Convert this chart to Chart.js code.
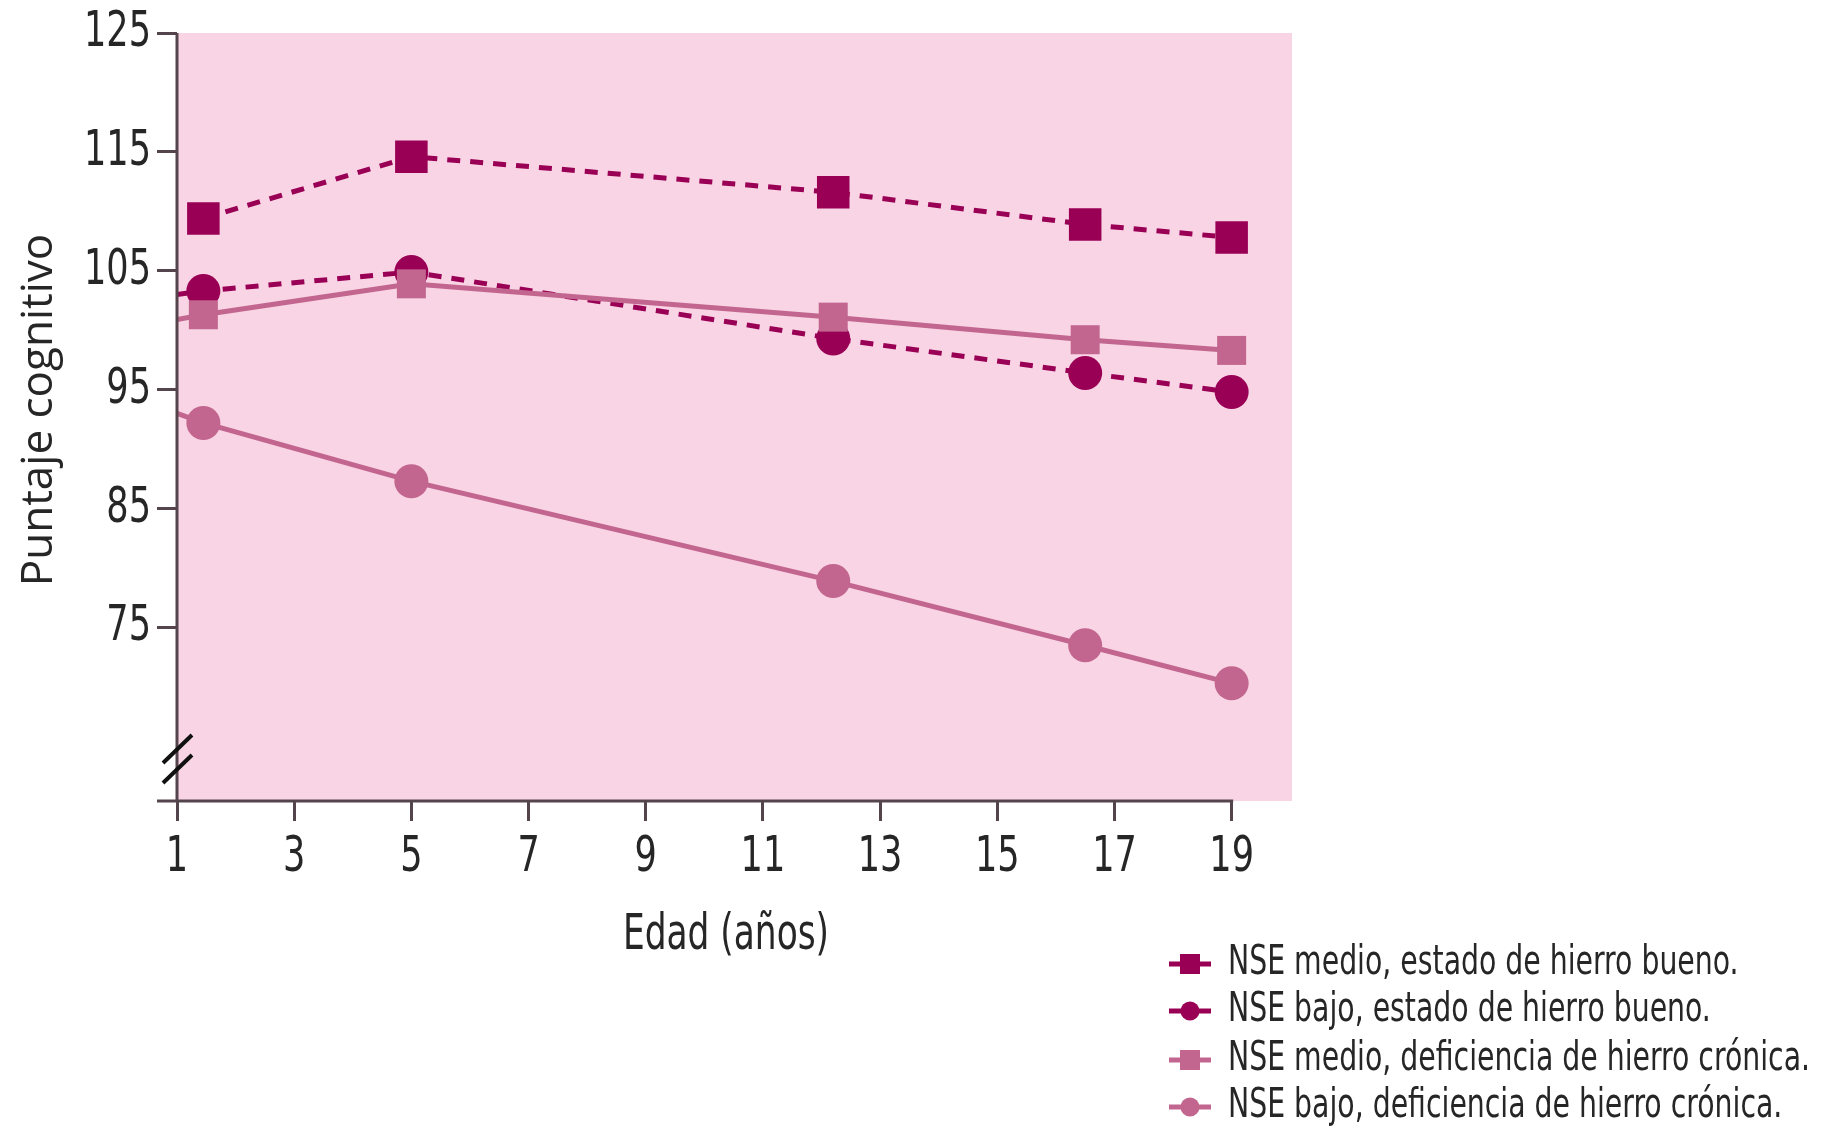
<!DOCTYPE html>
<html>
<head>
<meta charset="utf-8">
<script src="https://cdn.jsdelivr.net/npm/chart.js@4/dist/chart.umd.min.js"></script>
<style>
  html, body { margin: 0; padding: 0; background: #fff; }
</style>
</head>
<body>
<canvas id="chart" width="1825" height="1130"></canvas>
<script>
// ── Data ──
const ages = [1.45, 5, 12.2, 16.5, 19];
const medioBueno = [109.4, 114.6, 111.6, 108.9, 107.8];
const bajoBueno = [103.3, 104.9, 99.3, 96.4, 94.8];
const medioDeficiencia = [101.3, 103.9, 101.1, 99.2, 98.3];
const bajoDeficiencia = [92.2, 87.3, 78.9, 73.5, 70.3];

// three of the lines run back to the y axis at age 1 (no marker there)
const startAge = 1;
const bajoBuenoStart = 103.0;
const medioDeficienciaStart = 100.9;
const bajoDeficienciaStart = 93.0;

const xTicks = [1, 3, 5, 7, 9, 11, 13, 15, 17, 19];
const yTicks = [75, 85, 95, 105, 115, 125];
const xTitle = 'Edad (años)';
const yTitle = 'Puntaje cognitivo';
const seriesLabels = [
  'NSE medio, estado de hierro bueno.',
  'NSE bajo, estado de hierro bueno.',
  'NSE medio, deficiencia de hierro crónica.',
  'NSE bajo, deficiencia de hierro crónica.',
];

// ── Styles ──
const DARK = '#990055';
const LIGHT = '#c2668f';
const PLOT_BG = '#f9d4e4';
const AXIS = '#54454c';
const TEXT = '#262626';
const COND = "'DejaVu Sans Condensed', 'DejaVu Sans', sans-serif";
const SQUEEZE = 0.78; // the original face is much narrower than anything installed

function pts(values, start) {
  const out = values.map((v, i) => ({ x: ages[i], y: v }));
  if (start !== undefined) out.unshift({ x: startAge, y: start });
  return out;
}
function radii(n, r, lead) {
  const arr = new Array(n).fill(r);
  if (lead) arr.unshift(0);
  return arr;
}

// draw text squeezed horizontally
function narrowText(ctx, text, x, y, align, sx) {
  ctx.save();
  ctx.textAlign = align;
  ctx.scale(sx, 1);
  ctx.fillText(text, x / sx, y);
  ctx.restore();
}

// ── Plugins ──
const plotBackground = {
  id: 'plotBackground',
  beforeDraw(chart) {
    const { ctx, chartArea: a } = chart;
    ctx.save();
    ctx.fillStyle = PLOT_BG;
    ctx.fillRect(a.left, a.top, a.right - a.left, a.bottom - a.top);
    ctx.restore();
  },
};

const axisLines = {
  id: 'axisLines',
  afterDatasetsDraw(chart) {
    const { ctx, chartArea: a, scales } = chart;
    const yTop = scales.y.getPixelForValue(125);
    const xEnd = scales.x.getPixelForValue(19);
    ctx.save();
    ctx.strokeStyle = AXIS;
    ctx.lineWidth = 3;
    ctx.beginPath();
    ctx.moveTo(a.left, yTop);
    ctx.lineTo(a.left, a.bottom);
    ctx.moveTo(a.left - 20, a.bottom);
    ctx.lineTo(xEnd + 1.5, a.bottom);
    ctx.stroke();
    // axis break
    ctx.strokeStyle = '#111';
    ctx.lineWidth = 4;
    ctx.beginPath();
    ctx.moveTo(a.left - 14, a.bottom - 38);
    ctx.lineTo(a.left + 15, a.bottom - 66);
    ctx.moveTo(a.left - 14, a.bottom - 18);
    ctx.lineTo(a.left + 15, a.bottom - 46);
    ctx.stroke();
    ctx.restore();
  },
};

const axisText = {
  id: 'axisText',
  afterDraw(chart) {
    const { ctx, chartArea: a, scales } = chart;
    ctx.save();
    ctx.fillStyle = TEXT;
    ctx.font = '50px ' + COND;
    ctx.textBaseline = 'middle';
    scales.y.ticks.forEach(t => {
      narrowText(ctx, String(t.value), a.left - 26, scales.y.getPixelForValue(t.value), 'right', SQUEEZE);
    });
    ctx.textBaseline = 'alphabetic';
    scales.x.ticks.forEach(t => {
      narrowText(ctx, String(t.value), scales.x.getPixelForValue(t.value), a.bottom + 70, 'center', SQUEEZE);
    });
    ctx.font = '49px ' + COND;
    narrowText(ctx, xTitle, 726, a.bottom + 148, 'center', SQUEEZE);

    // y title, rotated
    ctx.font = "44px 'Open Sans', sans-serif";
    ctx.translate(52, 410);
    ctx.rotate(-Math.PI / 2);
    ctx.textAlign = 'center';
    ctx.fillText(yTitle, 0, 0);
    ctx.restore();
  },
};

const sideLegend = {
  id: 'sideLegend',
  afterDraw(chart) {
    const { ctx } = chart;
    const x0 = 1190, textX = 1228;
    const rows = [964, 1011, 1060, 1107];
    ctx.save();
    ctx.font = '40px ' + COND;
    ctx.textBaseline = 'middle';
    // fit the longest label into the width it has in the figure
    const widest = Math.max(...chart.data.datasets.map(ds => ctx.measureText(ds.label).width));
    const sx = 582 / widest;
    chart.data.datasets.forEach((ds, i) => {
      const y = rows[i];
      ctx.strokeStyle = ds.borderColor;
      ctx.lineWidth = 5;
      ctx.beginPath();
      ctx.moveTo(x0 - 21, y);
      ctx.lineTo(x0 + 21, y);
      ctx.stroke();
      ctx.fillStyle = ds.borderColor;
      if (ds.pointStyle === 'rect') {
        ctx.fillRect(x0 - 10, y - 10, 20, 20);
      } else {
        ctx.beginPath();
        ctx.arc(x0, y, 9.5, 0, Math.PI * 2);
        ctx.fill();
      }
      ctx.fillStyle = TEXT;
      narrowText(ctx, ds.label, textX, y, 'left', sx);
    });
    ctx.restore();
  },
};

// ── Chart ──
const ctx = document.getElementById('chart');
new Chart(ctx, {
  type: 'line',
  data: {
    datasets: [
      {
        label: seriesLabels[0],
        data: pts(medioBueno),
        borderColor: DARK, backgroundColor: DARK,
        borderWidth: 5, borderDash: [13, 10],
        pointStyle: 'rect', pointRadius: radii(5, 23, false),
        pointBorderWidth: 0, order: 0,
      },
      {
        label: seriesLabels[1],
        data: pts(bajoBueno, bajoBuenoStart),
        borderColor: DARK, backgroundColor: DARK,
        borderWidth: 5, borderDash: [13, 10],
        pointStyle: 'circle', pointRadius: radii(5, 17, true),
        pointBorderWidth: 0, order: 2,
      },
      {
        label: seriesLabels[2],
        data: pts(medioDeficiencia, medioDeficienciaStart),
        borderColor: LIGHT, backgroundColor: LIGHT,
        borderWidth: 5,
        pointStyle: 'rect', pointRadius: radii(5, 20.5, true),
        pointBorderWidth: 0, order: 1,
      },
      {
        label: seriesLabels[3],
        data: pts(bajoDeficiencia, bajoDeficienciaStart),
        borderColor: LIGHT, backgroundColor: LIGHT,
        borderWidth: 5,
        pointStyle: 'circle', pointRadius: radii(5, 17, true),
        pointBorderWidth: 0, order: 3,
      },
    ],
  },
  options: {
    responsive: false,
    animation: false,
    devicePixelRatio: 1,
    layout: { padding: { left: 0, right: 533, top: 33, bottom: 162 } },
    plugins: {
      legend: { display: false },
      tooltip: { enabled: false },
    },
    elements: { line: { tension: 0 } },
    scales: {
      x: {
        type: 'linear',
        min: 1, max: 20.03,
        afterBuildTicks: s => { s.ticks = xTicks.map(v => ({ value: v })); },
        afterFit: s => { s.height = 167; },
        border: { display: false },
        grid: { drawOnChartArea: false, drawTicks: true, tickLength: 20, color: AXIS, lineWidth: 3 },
        ticks: { display: false },
      },
      y: {
        type: 'linear',
        min: 60.4, max: 125,
        afterBuildTicks: s => { s.ticks = yTicks.map(v => ({ value: v })); },
        afterFit: s => { s.width = 177; },
        border: { display: false },
        grid: { drawOnChartArea: false, drawTicks: true, tickLength: 20, color: AXIS, lineWidth: 3 },
        ticks: { display: false },
      },
    },
  },
  plugins: [plotBackground, axisLines, axisText, sideLegend],
});
</script>
</body>
</html>
